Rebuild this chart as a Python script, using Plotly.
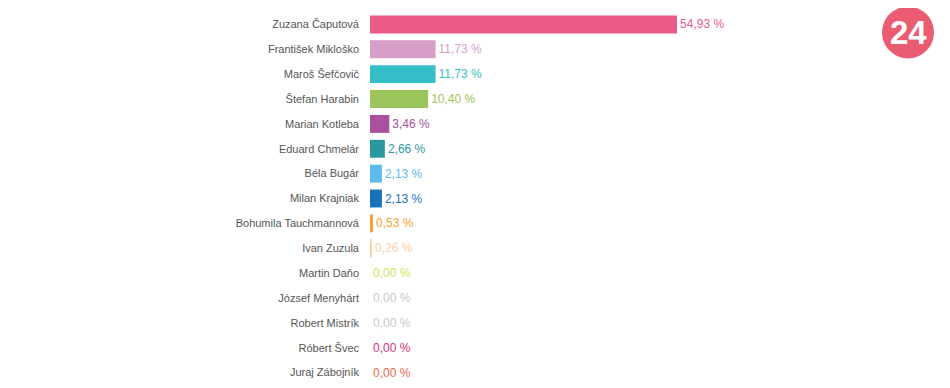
import plotly.graph_objects as go

candidates = ["Zuzana Čaputová", "František Mikloško", "Maroš Šefčovič", "Štefan Harabin",
              "Marian Kotleba", "Eduard Chmelár", "Béla Bugár", "Milan Krajniak",
              "Bohumila Tauchmannová", "Ivan Zuzula", "Martin Daňo", "József Menyhárt",
              "Robert Mistrík", "Róbert Švec", "Juraj Zábojník"]
values = [54.93, 11.73, 11.73, 10.40, 3.46, 2.66, 2.13, 2.13, 0.53, 0.26, 0.00, 0.00, 0.00, 0.00, 0.00]
colors = ["#ec5a87", "#d79ec7", "#35bec8", "#9bc55b", "#a9509f", "#2b989f", "#5cbbeb", "#1a72b8",
          "#f7a032", "#fbd0a2", "#d6e158", "#c8c8cc", "#c8c8cc", "#d8336f", "#f0654d"]

texts = [f"{v:.2f}".replace(".", ",") + " %" for v in values]

fig = go.Figure(go.Bar(
    x=values, y=candidates, orientation="h",
    marker=dict(color=colors, line=dict(width=0)),
    text=texts, textposition="outside", cliponaxis=False,
    textfont=dict(color=colors, size=12, family="Liberation Sans, Arial, sans-serif"),
    hoverinfo="skip",
))

lx = (908 - 370) / 559
ly = (385.5 - 32) / 374

fig.update_layout(
    width=950, height=388, autosize=False,
    margin=dict(l=362, r=29, t=3.5, b=10.5),
    paper_bgcolor="white", plot_bgcolor="white",
    bargap=0.28, showlegend=False,
    font=dict(family="Liberation Sans, Arial, sans-serif"),
    xaxis=dict(range=[0, 100], visible=False, showgrid=False, zeroline=False),
    yaxis=dict(autorange="reversed", showgrid=False, zeroline=False, showline=False,
               ticks="", ticklabelstandoff=10,
               tickfont=dict(size=11, color="#555555")),
    shapes=[dict(type="circle", xref="paper", yref="paper",
                 xsizemode="pixel", ysizemode="pixel",
                 xanchor=lx, yanchor=ly,
                 x0=-26, x1=26, y0=-26, y1=26,
                 fillcolor="#ea5c71", line=dict(width=0))],
    annotations=[dict(text="<b>24</b>", xref="paper", yref="paper",
                      x=lx, y=ly, showarrow=False, xanchor="center", yanchor="middle",
                      font=dict(size=33, color="white", family="Liberation Sans, Arial, sans-serif"))],
)

fig.write_html("out.html")
